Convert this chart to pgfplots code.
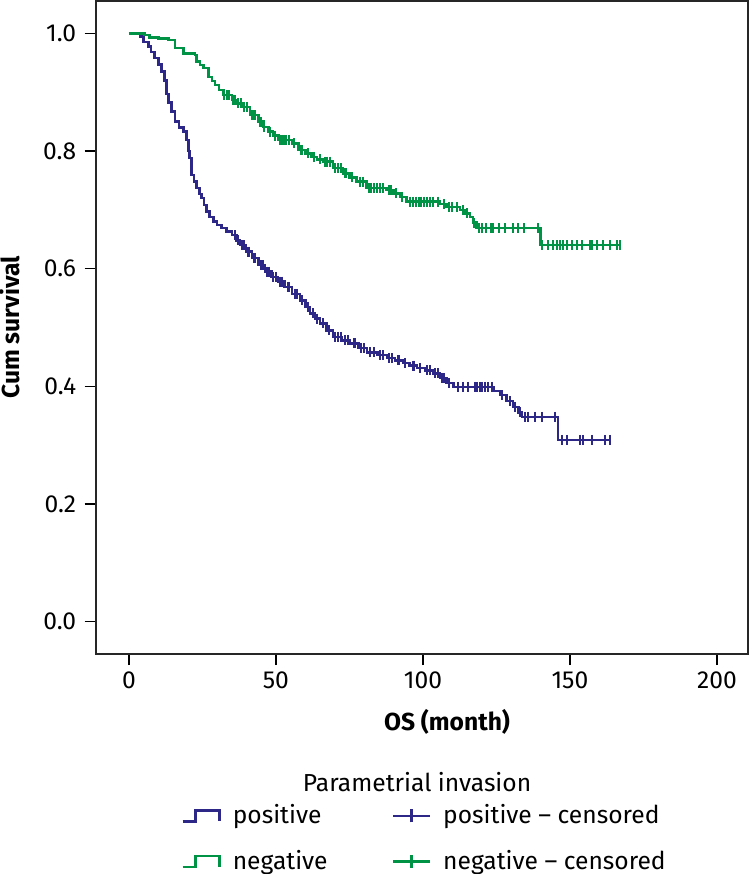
\documentclass[border=0pt]{standalone}
\usepackage{fontspec}
\setmainfont{Fira Sans}
\usepackage{pgfplots}
\pgfplotsset{compat=1.18}
\definecolor{posc}{RGB}{45,40,135}
\definecolor{negc}{RGB}{0,147,70}
\pgfplotstableread{
t s
0 1.000
3.7 0.995
5 0.985
6.6 0.978
7.5 0.968
8.8 0.958
10 0.947
11.1 0.935
12 0.920
12.8 0.897
13.5 0.882
14.5 0.867
15.7 0.850
17 0.840
18.5 0.833
19.6 0.819
20.2 0.800
20.7 0.788
21.3 0.759
22.2 0.748
23.0 0.737
24.0 0.727
24.7 0.720
25.5 0.708
26.4 0.697
27.5 0.688
28.7 0.680
30 0.674
31.5 0.669
33.2 0.663
35.0 0.657
36.5 0.648
37.8 0.640
39.8 0.629
41.8 0.618
44 0.606
46.3 0.595
48.5 0.586
50.7 0.578
53 0.569
55.5 0.557
58.2 0.546
60 0.535
61.6 0.524
63.3 0.515
65.0 0.507
67.2 0.495
69.4 0.484
72.3 0.478
75.2 0.473
78 0.465
81.0 0.458
84.5 0.453
87.8 0.448
90.5 0.444
93.2 0.440
95.5 0.435
98.0 0.431
100.7 0.427
103.4 0.422
105.8 0.414
108 0.406
110.3 0.399
124.0 0.392
126.2 0.385
128.5 0.375
130.7 0.365
132.5 0.356
133.7 0.348
146.0 0.309
163.7 0.309
}\posdata
\pgfplotstableread{
t s
36 0.657
37 0.648
38.5 0.640
39 0.640
40.5 0.629
41 0.629
42.5 0.618
43 0.618
45 0.606
45.5 0.606
47 0.595
47.5 0.595
49 0.586
50 0.586
51.5 0.578
52 0.578
54 0.569
54.5 0.569
56.5 0.557
57 0.557
59 0.546
61 0.535
62.5 0.524
64 0.515
66 0.507
68 0.495
70 0.484
71 0.484
72 0.484
73.5 0.478
74.5 0.478
76.5 0.473
77 0.473
79 0.465
80 0.465
82 0.458
83.5 0.458
85.5 0.453
86.5 0.453
88.5 0.448
89.5 0.448
91.5 0.444
92 0.444
94 0.440
96.5 0.435
97 0.435
99 0.431
101.5 0.427
102.5 0.427
104 0.422
105 0.422
106.5 0.414
107 0.414
109 0.406
111.9 0.399
113.6 0.399
115.3 0.399
117.7 0.399
118.4 0.399
119.4 0.399
120.1 0.399
121.1 0.399
122.1 0.399
123.5 0.399
127 0.385
129.7 0.375
131.4 0.365
133.1 0.356
134.8 0.348
135.8 0.348
138.2 0.348
140.5 0.348
145.0 0.348
147.4 0.309
149.1 0.309
153.5 0.309
154.5 0.309
157.6 0.309
162.0 0.309
163.7 0.309
}\poscens
\pgfplotstableread{
t s
0 1.000
5.4 0.997
7.1 0.993
10 0.991
13.4 0.989
15.7 0.975
18.5 0.966
22.5 0.963
23.0 0.952
24.2 0.946
25.3 0.941
27.0 0.926
28.2 0.919
29.3 0.912
30.7 0.904
32.1 0.895
35.0 0.887
36.7 0.881
38.4 0.875
41.2 0.861
44.0 0.850
45.7 0.841
47.4 0.833
49 0.826
50.8 0.819
55.4 0.813
57.6 0.802
60 0.796
62.2 0.790
64 0.786
66.1 0.782
69.4 0.771
72.8 0.762
75 0.755
77.5 0.748
80.9 0.737
87.7 0.734
90 0.728
92.2 0.722
94.5 0.714
105.8 0.710
108.1 0.705
112.6 0.700
114.3 0.694
116.0 0.688
117 0.678
118.3 0.669
139.9 0.640
167.1 0.640
}\negdata
\pgfplotstableread{
t s
32.5 0.895
33.5 0.895
34 0.895
35.5 0.887
36 0.887
37 0.881
38 0.881
39 0.875
40 0.875
41.8 0.861
42.5 0.861
43 0.861
44.5 0.850
45 0.850
46 0.841
48 0.833
49.8 0.826
51.5 0.819
52 0.819
52.8 0.819
53.5 0.819
54.5 0.819
56 0.813
58.5 0.802
59 0.802
61 0.796
63 0.790
65 0.786
66.8 0.782
67.5 0.782
68.3 0.782
70 0.771
71 0.771
72 0.771
73.5 0.762
74 0.762
76 0.755
78.5 0.748
79.5 0.748
81.5 0.737
82.5 0.737
83.5 0.737
84.5 0.737
85.5 0.737
86.5 0.737
88.5 0.734
89 0.734
91 0.728
93 0.722
95.5 0.714
96.5 0.714
97.5 0.714
98.5 0.714
99.5 0.714
100.5 0.714
101.5 0.714
102.5 0.714
103.5 0.714
105 0.714
107 0.710
109 0.705
110 0.705
111.5 0.705
113.5 0.700
115 0.694
117.5 0.678
119 0.669
120 0.669
121.5 0.669
123 0.669
124 0.669
126 0.669
128 0.669
130.5 0.669
132.5 0.669
134.5 0.669
139 0.669
140.4 0.640
142.7 0.640
144.4 0.640
145.5 0.640
146.7 0.640
147.8 0.640
148.9 0.640
150.7 0.640
152.4 0.640
154.1 0.640
156.9 0.640
157.5 0.640
159.2 0.640
161.4 0.640
163.7 0.640
166.0 0.640
167.1 0.640
}\negcens
\begin{document}
\fontsize{12.3}{14.5}\selectfont
\begin{tikzpicture}
\path[use as bounding box] (-47.85pt,-110pt) rectangle (327.15pt,327pt);
\begin{axis}[
  at={(0pt,0pt)}, anchor=south west, scale only axis,
  width=326.2pt, height=326.5pt,
  clip mode=individual,
  xmin=-11.3, xmax=210.6, ymin=-0.055, ymax=1.055,
  xtick={0,50,100,150,200}, ytick={0,0.2,0.4,0.6,0.8,1.0},
  xtick pos=lower, ytick pos=left,
  tick align=outside, major tick length=5.5pt,
  tick style={line width=0.7pt, black},
  axis line style={line width=1pt, black!85},
  /pgf/number format/assume math mode=true,
  yticklabel style={/pgf/number format/.cd, fixed, fixed zerofill, precision=1},
  xticklabel style={yshift=1pt},
  xlabel={\bfseries OS (month)},
  ylabel={\bfseries Cum survival},
  xlabel style={at={(axis description cs:0.5385,-0.1041)}, anchor=center},
  ylabel style={at={(axis description cs:-0.1318,0.5)}, anchor=center, rotate=0},
  legend style={draw=none, fill=none, legend columns=2,
    at={(axis description cs:0.1216,-0.2175)}, anchor=north west,
    row sep=7.3pt,
    /tikz/every odd column/.append style={column sep=4pt},
    /tikz/every even column/.append style={column sep=6pt}},
  legend cell align=left,
]
\addplot[const plot, posc, line width=1.3pt, forget plot] table[x=t,y=s] {\posdata};
\addplot[only marks, mark=|, mark size=2.5pt, posc, mark options={line width=1pt}, forget plot] table[x=t,y=s] {\poscens};
\addplot[const plot, negc, line width=1.3pt, forget plot] table[x=t,y=s] {\negdata};
\addplot[only marks, mark=|, mark size=2.5pt, negc, mark options={line width=1pt}, forget plot] table[x=t,y=s] {\negcens};
\addlegendimage{legend image code/.code={\draw[posc,line width=1.2pt] (0pt,-2.75pt) -- (6.5pt,-2.75pt) -- (6.5pt,2.75pt) -- (18.5pt,2.75pt) -- (18.5pt,-2.75pt);}}
\addlegendentry{\makebox[71.5pt][l]{positive}}
\addlegendimage{legend image code/.code={\draw[posc,line width=1.2pt] (0pt,0pt) -- (18.5pt,0pt); \draw[posc,line width=1.2pt] (9.25pt,-3.25pt) -- (9.25pt,3.25pt);}}
\addlegendentry{positive -- censored}
\addlegendimage{legend image code/.code={\draw[negc,line width=1.2pt] (0pt,-2.75pt) -- (6.5pt,-2.75pt) -- (6.5pt,2.75pt) -- (18.5pt,2.75pt) -- (18.5pt,-2.75pt);}}
\addlegendentry{\makebox[71.5pt][l]{negative}}
\addlegendimage{legend image code/.code={\draw[negc,line width=1.2pt] (0pt,0pt) -- (18.5pt,0pt); \draw[negc,line width=1.2pt] (9.25pt,-3.25pt) -- (9.25pt,3.25pt);}}
\addlegendentry{negative -- censored}
\node[anchor=center] at (axis description cs:0.4926,-0.196) {Parametrial invasion};
\end{axis}
\end{tikzpicture}
\end{document}
